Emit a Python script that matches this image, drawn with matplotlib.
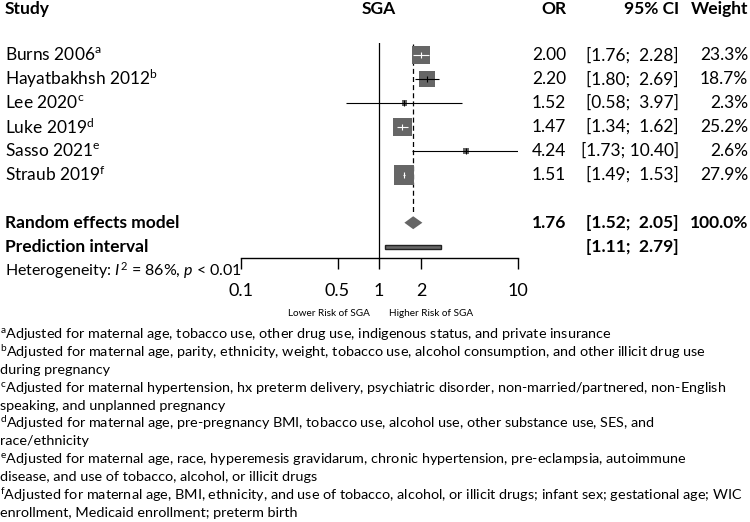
import matplotlib
matplotlib.use("Agg")
import matplotlib.pyplot as plt
import numpy as np
from matplotlib.transforms import blended_transform_factory

# forest plot data: SGA, odds ratios
studies = ["Burns 2006", "Hayatbakhsh 2012", "Lee 2020", "Luke 2019", "Sasso 2021", "Straub 2019"]
marks = ["a", "b", "c", "d", "e", "f"]
odds = [2.00, 2.20, 1.52, 1.47, 4.24, 1.51]
ci_low = [1.76, 1.80, 0.58, 1.34, 1.73, 1.49]
ci_high = [2.28, 2.69, 3.97, 1.62, 10.40, 1.53]
weights = [23.3, 18.7, 2.3, 25.2, 2.6, 27.9]
re_or, re_low, re_high = 1.76, 1.52, 2.05
pi_low, pi_high = 1.11, 2.79
i2 = 86
tick_vals = [0.1, 0.5, 1, 2, 10]
tick_labels = ["0.1", "0.5", "1", "2", "10"]

footnotes = [
    ("a", "Adjusted for maternal age, tobacco use, other drug use, indigenous status, and private insurance"),
    ("b", "Adjusted for maternal age, parity, ethnicity, weight, tobacco use, alcohol consumption, and other illicit drug use"),
    ("", "during pregnancy"),
    ("c", "Adjusted for maternal hypertension, hx preterm delivery, psychiatric disorder, non-married/partnered, non-English"),
    ("", "speaking, and unplanned pregnancy"),
    ("d", "Adjusted for maternal age, pre-pregnancy BMI, tobacco use, alcohol use, other substance use, SES, and"),
    ("", "race/ethnicity"),
    ("e", "Adjusted for maternal age, race, hyperemesis gravidarum, chronic hypertension, pre-eclampsia, autoimmune"),
    ("", "disease, and use of tobacco, alcohol, or illicit drugs"),
    ("f", "Adjusted for maternal age, BMI, ethnicity, and use of tobacco, alcohol, or illicit drugs; infant sex; gestational age; WIC"),
    ("", "enrollment, Medicaid enrollment; preterm birth"),
]

plt.rcParams["font.family"] = ["Lato", "DejaVu Sans"]
plt.rcParams["mathtext.fontset"] = "custom"
plt.rcParams["mathtext.rm"] = "Lato"
plt.rcParams["mathtext.it"] = "Lato:italic"
plt.rcParams["mathtext.bf"] = "Lato:bold"

W, H = 750, 522
fig = plt.figure(figsize=(W / 100, H / 100), dpi=100)

# axes placed in pixels: 0.1 -> 240.7, 10 -> 517.7
ax_left, ax_right, ax_top, ax_bot = 240.7, 517.7, 43, 258.3
ax = fig.add_axes([ax_left / W, 1 - ax_bot / H, (ax_right - ax_left) / W, (ax_bot - ax_top) / H])
ax.set_xscale("log")
ax.set_xlim(0.1, 10)
row_px = 23.96
first_px = 55
ax.set_ylim(1 + (ax_bot - first_px) / row_px, 1 + (ax_top - first_px) / row_px)
ax.patch.set_alpha(0)
for s in ["top", "left", "right"]:
    ax.spines[s].set_visible(False)
ax.spines["bottom"].set_linewidth(1.0)
ax.set_yticks([])
ax.minorticks_off()
ax.set_xticks(tick_vals)
ax.set_xticklabels(tick_labels)
ax.tick_params(axis="x", which="major", length=8, width=1.0, pad=10, labelsize=13)
ax.tick_params(axis="x", which="minor", length=0)

box_col = "#666666"
rows = np.arange(1, len(studies) + 1)
re_row = len(studies) + 2
pi_row = re_row + 1
het_row = pi_row + 1

ax.axvline(1, color="black", lw=0.9)
ax.vlines(re_or, 0.55, re_row - 0.45, color="black", lw=0.9, linestyles=(0, (4, 2.5)))

# boxes, side proportional to sqrt(weight)
sizes = [7.2 * w for w in weights]
ax.scatter(odds, rows, s=sizes, marker="s", color=box_col, linewidths=0, zorder=3)

fig.canvas.draw()
for r, o, lo, hi, s in zip(rows, odds, ci_low, ci_high, sizes):
    half = np.sqrt(s) / 2 * 100 / 72
    cx = ax.transData.transform((o, r))[0]
    lx = ax.transData.transform((lo, r))[0]
    hx = ax.transData.transform((hi, r))[0]
    col = "white" if (lx > cx - half and hx < cx + half) else "black"
    ax.hlines(r, lo, hi, color=col, lw=0.8, zorder=4)
    ax.plot([o], [r], marker="|", markersize=4.5, mew=0.8, color=col, zorder=4)

# summary diamond
dh = 0.27
ax.fill([re_low, re_or, re_high, re_or], [re_row, re_row - dh, re_row, re_row + dh],
        color=box_col, lw=0, zorder=3)
# prediction interval bar
ph = 0.085
ax.fill([pi_low, pi_high, pi_high, pi_low], [pi_row - ph, pi_row - ph, pi_row + ph, pi_row + ph],
        facecolor=box_col, edgecolor="#222222", lw=1.0, zorder=3)

ax.annotate("Lower Risk of SGA", xy=(1, 0), xycoords=("data", "axes fraction"),
            xytext=(-7, -39.5), textcoords="offset points", ha="right", va="center", fontsize=7.2)
ax.annotate("Higher Risk of SGA", xy=(1, 0), xycoords=("data", "axes fraction"),
            xytext=(7, -39.5), textcoords="offset points", ha="left", va="center", fontsize=7.2)

# table columns
tr = blended_transform_factory(fig.transFigure, ax.transData)
fs = 12.5
x_study, x_or, x_ci, x_w = 5 / W, 566 / W, 679 / W, 748 / W
hdr_row = -0.92
fig.text(x_study, hdr_row, "Study", transform=tr, ha="left", va="center", fontsize=fs, fontweight="bold")
fig.text(ax.transData.transform((1, 0))[0] / W, hdr_row, "SGA", transform=tr, ha="center", va="center",
         fontsize=fs, fontweight="bold")
fig.text(x_or, hdr_row, "OR", transform=tr, ha="right", va="center", fontsize=fs, fontweight="bold")
fig.text(x_ci, hdr_row, "95% CI", transform=tr, ha="right", va="center", fontsize=fs, fontweight="bold")
fig.text(x_w, hdr_row, "Weight", transform=tr, ha="right", va="center", fontsize=fs, fontweight="bold")


def fmt_ci(lo, hi):
    a = f"{lo:.2f}"
    b = f"{hi:.2f}"
    if len(b) < 5:
        b = " " + b
    return f"[{a}; {b}]"


for r, name, m, o, lo, hi, w in zip(rows, studies, marks, odds, ci_low, ci_high, weights):
    fig.text(x_study, r, name + r"$^{\mathrm{" + m + "}}$", transform=tr, ha="left", va="center", fontsize=fs)
    fig.text(x_or, r, f"{o:.2f}", transform=tr, ha="right", va="center", fontsize=fs)
    fig.text(x_ci, r, fmt_ci(lo, hi), transform=tr, ha="right", va="center", fontsize=fs)
    fig.text(x_w, r, f"{w:.1f}%", transform=tr, ha="right", va="center", fontsize=fs)

fig.text(x_study, re_row, "Random effects model", transform=tr, ha="left", va="center", fontsize=fs,
         fontweight="bold")
fig.text(x_or, re_row, f"{re_or:.2f}", transform=tr, ha="right", va="center", fontsize=fs, fontweight="bold")
fig.text(x_ci, re_row, fmt_ci(re_low, re_high), transform=tr, ha="right", va="center", fontsize=fs,
         fontweight="bold")
fig.text(x_w, re_row, f"{sum(weights):.1f}%", transform=tr, ha="right", va="center", fontsize=fs,
         fontweight="bold")
fig.text(x_study, pi_row, "Prediction interval", transform=tr, ha="left", va="center", fontsize=fs,
         fontweight="bold")
fig.text(x_ci, pi_row, fmt_ci(pi_low, pi_high), transform=tr, ha="right", va="center", fontsize=fs,
         fontweight="bold")
fig.text(x_study, het_row, rf"Heterogeneity: $I^2$ = {i2}%, $p$ < 0.01", transform=tr, ha="left",
         va="center", fontsize=11.5)

# footnotes
fn_top = 334
fn_step = 17.9
for k, (m, line) in enumerate(footnotes):
    y = 1 - (fn_top + k * fn_step) / H
    txt = (r"$^{\mathrm{" + m + "}}$" + line) if m else line
    fig.text(0 / W, y, txt, ha="left", va="center", fontsize=10.4)

fig.savefig("out.png", dpi=100)
